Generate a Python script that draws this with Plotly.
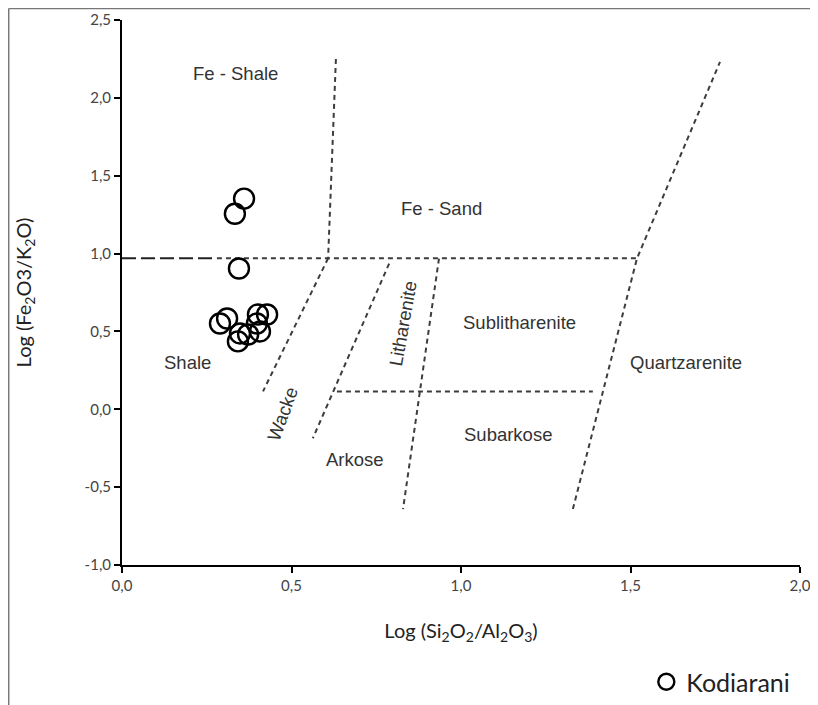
import plotly.graph_objects as go

# ---- data ----
sample_x = [0.360, 0.333, 0.345, 0.289, 0.310, 0.348, 0.342, 0.401, 0.428, 0.407, 0.372, 0.398]
sample_y = [1.353, 1.256, 0.904, 0.551, 0.583, 0.487, 0.436, 0.609, 0.609, 0.500, 0.480, 0.551]
series_name = "Kodiarani"

x_ticks = [0.0, 0.5, 1.0, 1.5, 2.0]
x_tick_labels = ["0,0", "0,5", "1,0", "1,5", "2,0"]
y_ticks = [-1.0, -0.5, 0.0, 0.5, 1.0, 1.5, 2.0, 2.5]
y_tick_labels = ["-1,0", "-0,5", "0,0", "0,5", "1,0", "1,5", "2,0", "2,5"]

# field boundary lines (x list, y list)
boundary_fe_left_x = [0.0, 0.28]
boundary_fe_left_y = [0.97, 0.97]
boundary_fe_x = [0.28, 1.519]
boundary_fe_y = [0.97, 0.97]
boundary_shale_sand_x = [0.631, 0.608]
boundary_shale_sand_y = [2.25, 0.97]
boundary_wacke_x = [0.608, 0.416]
boundary_wacke_y = [0.97, 0.115]
boundary_lith_x = [0.788, 0.563]
boundary_lith_y = [0.936, -0.186]
boundary_sublith_x = [0.935, 0.829]
boundary_sublith_y = [0.968, -0.641]
boundary_arkose_x = [0.634, 1.389]
boundary_arkose_y = [0.115, 0.115]
boundary_quartz_x = [1.330, 1.519, 1.764]
boundary_quartz_y = [-0.641, 0.968, 2.231]

field_labels = ["Fe - Shale", "Fe - Sand", "Shale", "Wacke", "Litharenite",
                "Sublitharenite", "Subarkose", "Arkose", "Quartzarenite"]
field_x = [0.336, 0.941, 0.192, 0.475, 0.829, 1.174, 1.139, 0.687, 1.664]
field_y = [2.154, 1.288, 0.300, -0.03, 0.55, 0.558, -0.16, -0.32, 0.300]
field_angle = [0, 0, 0, -70, -80, 0, 0, 0, 0]

fig = go.Figure()

line_style = dict(color="#3d3d3d", width=2, dash="5px,4px")
bounds = [
    (boundary_fe_x, boundary_fe_y),
    (boundary_shale_sand_x, boundary_shale_sand_y),
    (boundary_wacke_x, boundary_wacke_y),
    (boundary_lith_x, boundary_lith_y),
    (boundary_sublith_x, boundary_sublith_y),
    (boundary_arkose_x, boundary_arkose_y),
    (boundary_quartz_x, boundary_quartz_y),
]
for bx, by in bounds:
    fig.add_trace(go.Scatter(x=bx, y=by, mode="lines", line=line_style,
                             showlegend=False, hoverinfo="skip"))
fig.add_trace(go.Scatter(x=boundary_fe_left_x, y=boundary_fe_left_y, mode="lines",
                         line=dict(color="#222222", width=2, dash="14px,5px"),
                         showlegend=False, hoverinfo="skip"))

fig.add_trace(go.Scatter(
    x=sample_x, y=sample_y, mode="markers", name=series_name,
    marker=dict(symbol="circle-open", size=20, color="black", line=dict(width=2.4)),
))

for t, fx, fy, ang in zip(field_labels, field_x, field_y, field_angle):
    fig.add_annotation(x=fx, y=fy, text=t, showarrow=False, textangle=ang,
                       font=dict(family="Liberation Sans, Arial", size=18.5, color="#333333"))

# outer frame (left and top edges)
fig.add_shape(type="line", xref="paper", yref="paper", x0=-0.1671, x1=-0.1671, y0=1.0213, y1=-0.3,
              line=dict(color="#777777", width=1.5))
fig.add_shape(type="line", xref="paper", yref="paper", x0=-0.1671, x1=1.03, y0=1.0213, y1=1.0213,
              line=dict(color="#777777", width=1.5))

axis_font = dict(family="Lato, Open Sans, sans-serif", size=15, color="#444444")
title_font = dict(family="Lato, Open Sans, sans-serif", size=20, color="#222222")
fig.update_layout(
    width=810, height=697,
    margin=dict(l=114, r=18, t=12, b=140, autoexpand=False),
    paper_bgcolor="white", plot_bgcolor="white",
    showlegend=True,
    legend=dict(xref="container", yref="container", x=0.972, y=0.0,
                xanchor="right", yanchor="bottom",
                font=dict(family="Lato, Open Sans, sans-serif", size=25, color="#222222"),
                bgcolor="rgba(0,0,0,0)"),
    xaxis=dict(range=[0, 2.0], tickvals=x_ticks, ticktext=x_tick_labels,
               showline=True, linecolor="black", linewidth=2, ticks="outside",
               ticklen=6, tickwidth=2, tickcolor="black", showgrid=False, zeroline=False,
               tickfont=axis_font, automargin=False,
               title=dict(text="Log (Si<sub>2</sub>O<sub>2</sub>/Al<sub>2</sub>O<sub>3</sub>)",
                          font=title_font, standoff=31)),
    yaxis=dict(range=[-1.0, 2.5], tickvals=y_ticks, ticktext=y_tick_labels,
               showline=True, linecolor="black", linewidth=2, ticks="outside",
               ticklen=6, tickwidth=2, tickcolor="black", showgrid=False, zeroline=False,
               tickfont=axis_font, automargin=False,
               title=dict(text="Log (Fe<sub>2</sub>O3/K<sub>2</sub>O)",
                          font=title_font, standoff=48)),
)

fig.write_html("out.html")
